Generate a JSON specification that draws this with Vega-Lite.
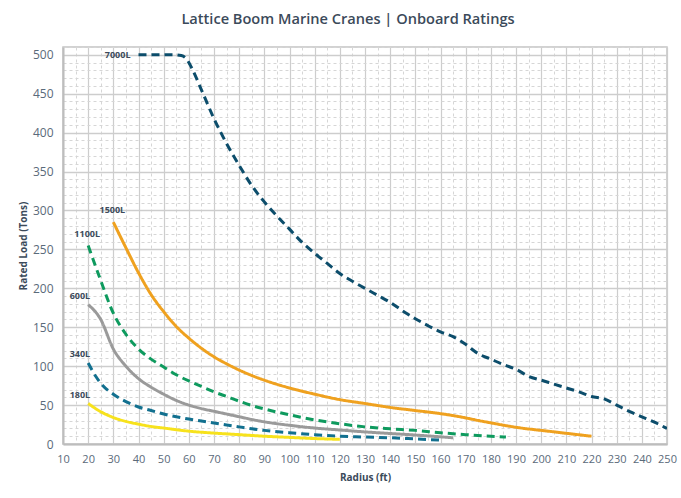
{
  "$schema": "https://vega.github.io/schema/vega-lite/v6.json",
  "width": 604,
  "height": 397,
  "autosize": {"type": "none"},
  "padding": {"left": 63, "top": 47, "right": 14, "bottom": 54},
  "background": "#ffffff",
  "title": {
    "text": "Lattice Boom Marine Cranes | Onboard Ratings",
    "font": "Open Sans",
    "fontSize": 14.6,
    "fontWeight": 600,
    "color": "#3b4a5a",
    "anchor": "middle",
    "dx": -17,
    "offset": 14
  },
  "config": {
    "view": {"stroke": "#c4c4c4", "strokeWidth": 1.5},
    "axis": {
      "labelFont": "Open Sans",
      "titleFont": "Open Sans",
      "labelColor": "#5a6a7a",
      "titleColor": "#3b4a5a",
      "titleFontWeight": "bold",
      "titleFontSize": 10,
      "domainColor": "#bdbdbd",
      "domainWidth": 2,
      "ticks": false,
      "labelOverlap": false,
      "labelFlush": false,
      "labelBound": false
    }
  },
  "data": {
    "values": [
      {"series": "7000L", "radius": 40, "load": 500},
      {"series": "7000L", "radius": 54, "load": 500},
      {"series": "7000L", "radius": 57, "load": 499},
      {"series": "7000L", "radius": 59, "load": 495},
      {"series": "7000L", "radius": 61, "load": 484},
      {"series": "7000L", "radius": 65, "load": 455},
      {"series": "7000L", "radius": 70, "load": 418},
      {"series": "7000L", "radius": 75, "load": 386},
      {"series": "7000L", "radius": 80, "load": 358},
      {"series": "7000L", "radius": 85, "load": 332},
      {"series": "7000L", "radius": 90, "load": 311},
      {"series": "7000L", "radius": 95, "load": 293},
      {"series": "7000L", "radius": 100, "load": 276},
      {"series": "7000L", "radius": 105, "load": 259},
      {"series": "7000L", "radius": 110, "load": 245},
      {"series": "7000L", "radius": 115, "load": 232},
      {"series": "7000L", "radius": 120, "load": 219},
      {"series": "7000L", "radius": 125, "load": 209},
      {"series": "7000L", "radius": 130, "load": 200},
      {"series": "7000L", "radius": 135, "load": 191},
      {"series": "7000L", "radius": 140, "load": 182},
      {"series": "7000L", "radius": 145, "load": 171},
      {"series": "7000L", "radius": 150, "load": 161},
      {"series": "7000L", "radius": 155, "load": 152},
      {"series": "7000L", "radius": 160, "load": 144},
      {"series": "7000L", "radius": 165, "load": 138},
      {"series": "7000L", "radius": 170, "load": 128},
      {"series": "7000L", "radius": 175, "load": 116},
      {"series": "7000L", "radius": 180, "load": 109},
      {"series": "7000L", "radius": 185, "load": 102},
      {"series": "7000L", "radius": 190, "load": 96},
      {"series": "7000L", "radius": 195, "load": 87},
      {"series": "7000L", "radius": 200, "load": 82},
      {"series": "7000L", "radius": 205, "load": 77},
      {"series": "7000L", "radius": 210, "load": 72},
      {"series": "7000L", "radius": 215, "load": 67},
      {"series": "7000L", "radius": 220, "load": 61},
      {"series": "7000L", "radius": 225, "load": 58},
      {"series": "7000L", "radius": 230, "load": 50},
      {"series": "7000L", "radius": 235, "load": 42},
      {"series": "7000L", "radius": 240, "load": 35},
      {"series": "7000L", "radius": 245, "load": 28},
      {"series": "7000L", "radius": 250, "load": 20},

      {"series": "1500L", "radius": 30, "load": 285},
      {"series": "1500L", "radius": 35, "load": 252},
      {"series": "1500L", "radius": 40, "load": 220},
      {"series": "1500L", "radius": 45, "load": 192},
      {"series": "1500L", "radius": 50, "load": 170},
      {"series": "1500L", "radius": 55, "load": 151},
      {"series": "1500L", "radius": 60, "load": 136},
      {"series": "1500L", "radius": 65, "load": 123},
      {"series": "1500L", "radius": 70, "load": 112},
      {"series": "1500L", "radius": 75, "load": 103},
      {"series": "1500L", "radius": 80, "load": 95},
      {"series": "1500L", "radius": 85, "load": 88},
      {"series": "1500L", "radius": 90, "load": 82},
      {"series": "1500L", "radius": 100, "load": 72},
      {"series": "1500L", "radius": 110, "load": 64},
      {"series": "1500L", "radius": 120, "load": 57},
      {"series": "1500L", "radius": 130, "load": 52},
      {"series": "1500L", "radius": 140, "load": 47},
      {"series": "1500L", "radius": 150, "load": 43},
      {"series": "1500L", "radius": 160, "load": 39},
      {"series": "1500L", "radius": 165, "load": 36.5},
      {"series": "1500L", "radius": 177, "load": 29},
      {"series": "1500L", "radius": 190, "load": 21.5},
      {"series": "1500L", "radius": 204, "load": 16},
      {"series": "1500L", "radius": 220, "load": 10},

      {"series": "1100L", "radius": 20, "load": 255},
      {"series": "1100L", "radius": 25, "load": 210},
      {"series": "1100L", "radius": 30, "load": 168},
      {"series": "1100L", "radius": 35, "load": 141},
      {"series": "1100L", "radius": 40, "load": 122},
      {"series": "1100L", "radius": 45, "load": 109},
      {"series": "1100L", "radius": 50, "load": 99},
      {"series": "1100L", "radius": 55, "load": 89},
      {"series": "1100L", "radius": 60, "load": 81},
      {"series": "1100L", "radius": 65, "load": 74},
      {"series": "1100L", "radius": 70, "load": 67},
      {"series": "1100L", "radius": 75, "load": 61},
      {"series": "1100L", "radius": 80, "load": 55},
      {"series": "1100L", "radius": 85, "load": 49.5},
      {"series": "1100L", "radius": 90, "load": 45},
      {"series": "1100L", "radius": 100, "load": 37.5},
      {"series": "1100L", "radius": 110, "load": 31},
      {"series": "1100L", "radius": 120, "load": 26},
      {"series": "1100L", "radius": 130, "load": 22},
      {"series": "1100L", "radius": 140, "load": 19.5},
      {"series": "1100L", "radius": 150, "load": 17.5},
      {"series": "1100L", "radius": 160, "load": 14.5},
      {"series": "1100L", "radius": 170, "load": 12},
      {"series": "1100L", "radius": 186, "load": 9},

      {"series": "600L", "radius": 20, "load": 179},
      {"series": "600L", "radius": 25, "load": 160},
      {"series": "600L", "radius": 30, "load": 122},
      {"series": "600L", "radius": 35, "load": 100},
      {"series": "600L", "radius": 40, "load": 84},
      {"series": "600L", "radius": 45, "load": 73},
      {"series": "600L", "radius": 50, "load": 64},
      {"series": "600L", "radius": 55, "load": 56},
      {"series": "600L", "radius": 60, "load": 50},
      {"series": "600L", "radius": 65, "load": 45.5},
      {"series": "600L", "radius": 70, "load": 42},
      {"series": "600L", "radius": 75, "load": 38.5},
      {"series": "600L", "radius": 80, "load": 35},
      {"series": "600L", "radius": 85, "load": 31.5},
      {"series": "600L", "radius": 90, "load": 28.5},
      {"series": "600L", "radius": 100, "load": 24},
      {"series": "600L", "radius": 110, "load": 20.5},
      {"series": "600L", "radius": 120, "load": 18},
      {"series": "600L", "radius": 130, "load": 15.5},
      {"series": "600L", "radius": 140, "load": 13.5},
      {"series": "600L", "radius": 150, "load": 11.5},
      {"series": "600L", "radius": 165, "load": 8},

      {"series": "340L", "radius": 20, "load": 104},
      {"series": "340L", "radius": 23, "load": 87},
      {"series": "340L", "radius": 25, "load": 78},
      {"series": "340L", "radius": 30, "load": 64},
      {"series": "340L", "radius": 35, "load": 54.5},
      {"series": "340L", "radius": 40, "load": 47.5},
      {"series": "340L", "radius": 45, "load": 43},
      {"series": "340L", "radius": 50, "load": 38.5},
      {"series": "340L", "radius": 55, "load": 35},
      {"series": "340L", "radius": 60, "load": 32},
      {"series": "340L", "radius": 65, "load": 29.5},
      {"series": "340L", "radius": 70, "load": 27},
      {"series": "340L", "radius": 75, "load": 24.5},
      {"series": "340L", "radius": 80, "load": 22},
      {"series": "340L", "radius": 85, "load": 19.5},
      {"series": "340L", "radius": 90, "load": 17.5},
      {"series": "340L", "radius": 100, "load": 14.5},
      {"series": "340L", "radius": 110, "load": 12},
      {"series": "340L", "radius": 120, "load": 10},
      {"series": "340L", "radius": 130, "load": 9},
      {"series": "340L", "radius": 140, "load": 8},
      {"series": "340L", "radius": 150, "load": 6.5},
      {"series": "340L", "radius": 160, "load": 5},

      {"series": "180L", "radius": 20, "load": 52},
      {"series": "180L", "radius": 25, "load": 41.5},
      {"series": "180L", "radius": 30, "load": 34},
      {"series": "180L", "radius": 35, "load": 29},
      {"series": "180L", "radius": 40, "load": 25.5},
      {"series": "180L", "radius": 45, "load": 22.5},
      {"series": "180L", "radius": 50, "load": 20.5},
      {"series": "180L", "radius": 60, "load": 16.5},
      {"series": "180L", "radius": 70, "load": 14},
      {"series": "180L", "radius": 80, "load": 12},
      {"series": "180L", "radius": 90, "load": 10},
      {"series": "180L", "radius": 100, "load": 8.5},
      {"series": "180L", "radius": 110, "load": 7},
      {"series": "180L", "radius": 120, "load": 6}
    ]
  },
  "encoding": {
    "x": {
      "field": "radius",
      "type": "quantitative",
      "scale": {"domain": [10, 250], "nice": false, "zero": false},
      "axis": {
        "title": "Radius (ft)",
        "values": [10,15,20,25,30,35,40,45,50,55,60,65,70,75,80,85,90,95,100,105,110,115,120,125,130,135,140,145,150,155,160,165,170,175,180,185,190,195,200,205,210,215,220,225,230,235,240,245,250],
        "labelExpr": "datum.value % 10 === 0 ? datum.label : ''",
        "labelFontSize": 11,
        "labelPadding": 9,
        "titlePadding": 8,
        "gridColor": {"condition": {"test": "datum.value % 10 === 0", "value": "#cdcdcd"}, "value": "#d6d6d6"},
        "gridDash": {"condition": {"test": "datum.value % 10 === 0", "value": []}, "value": [3, 3]},
        "gridWidth": {"condition": {"test": "datum.value % 10 === 0", "value": 1.2}, "value": 1}
      }
    },
    "y": {
      "field": "load",
      "type": "quantitative",
      "scale": {"domain": [0, 510], "nice": false},
      "axis": {
        "title": "Rated Load  (Tons)",
        "values": [0,10,20,30,40,50,60,70,80,90,100,110,120,130,140,150,160,170,180,190,200,210,220,230,240,250,260,270,280,290,300,310,320,330,340,350,360,370,380,390,400,410,420,430,440,450,460,470,480,490,500,510],
        "labelExpr": "datum.value % 50 === 0 ? datum.label : ''",
        "labelFontSize": 12,
        "labelPadding": 10,
        "titlePadding": 4,
        "gridColor": {"condition": {"test": "datum.value % 50 === 0", "value": "#cdcdcd"}, "value": "#d6d6d6"},
        "gridDash": {"condition": {"test": "datum.value % 50 === 0", "value": []}, "value": [3, 3]},
        "gridWidth": {"condition": {"test": "datum.value % 50 === 0", "value": 1.5}, "value": 1}
      }
    }
  },
  "layer": [
    {
      "mark": {"type": "line", "strokeWidth": 3, "interpolate": "monotone", "clip": true},
      "encoding": {
        "detail": {"field": "series"},
        "color": {
          "field": "series",
          "type": "nominal",
          "scale": {
            "domain": ["7000L", "1500L", "1100L", "600L", "340L", "180L"],
            "range": ["#0c4d6b", "#efa11f", "#0e9a5e", "#9a9a9a", "#12708f", "#f7e21c"]
          },
          "legend": null
        },
        "strokeDash": {
          "field": "series",
          "type": "nominal",
          "scale": {
            "domain": ["7000L", "1500L", "1100L", "600L", "340L", "180L"],
            "range": [[8, 5], [1, 0], [8, 5], [1, 0], [8, 5], [1, 0]]
          },
          "legend": null
        }
      }
    },
    {
      "transform": [
        {"filter": "datum.series === '7000L' && datum.radius === 40"}
      ],
      "mark": {"type": "text", "font": "Open Sans", "fontSize": 9, "fontWeight": "bold", "color": "#3d4b5b", "align": "right", "baseline": "middle", "dx": -8},
      "encoding": {"text": {"field": "series"}}
    },
    {
      "transform": [
        {"filter": "(datum.series === '1500L' && datum.radius === 30) || (datum.series === '1100L' && datum.radius === 20)"}
      ],
      "mark": {"type": "text", "font": "Open Sans", "fontSize": 9, "fontWeight": "bold", "color": "#3d4b5b", "align": "center", "baseline": "middle", "dx": -1, "dy": -12},
      "encoding": {"text": {"field": "series"}}
    },
    {
      "transform": [
        {"filter": "(datum.series === '600L' || datum.series === '340L' || datum.series === '180L') && datum.radius === 20"}
      ],
      "mark": {"type": "text", "font": "Open Sans", "fontSize": 9, "fontWeight": "bold", "color": "#3d4b5b", "align": "right", "baseline": "middle", "dx": 2, "dy": -9},
      "encoding": {"text": {"field": "series"}}
    }
  ]
}
